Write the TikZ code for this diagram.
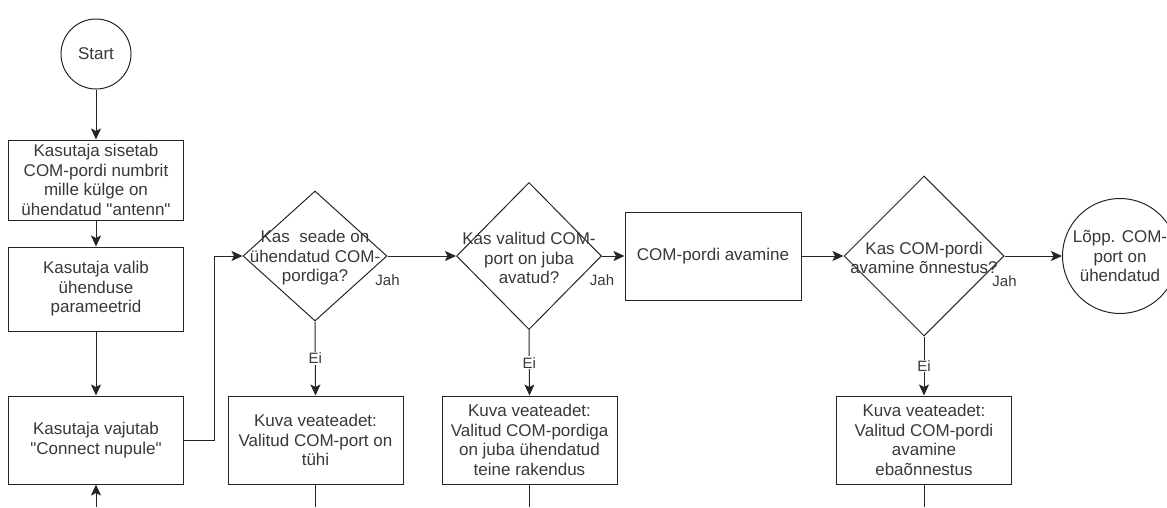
\documentclass[tikz,border=0pt]{standalone}
\usepackage{fontspec}
\setmainfont{Liberation Sans}
\usetikzlibrary{shapes.geometric,arrows.meta}
\definecolor{inkline}{HTML}{262626}
\definecolor{inktext}{HTML}{383838}
\newcommand{\dq}{\textquotedbl}
\begin{document}
\begin{tikzpicture}[x=1pt,y=-1pt,
  every node/.style={text=inktext, font=\fontsize{17}{19.5}\selectfont},
  proc/.style={draw=inkline, line width=1pt, rectangle, minimum width=175pt, align=center, inner sep=2pt},
  terminal/.style={draw=inkline, line width=1pt, circle, align=center, inner sep=0pt},
  decision/.style={draw=inkline, line width=1pt, diamond, inner sep=0pt},
  qtext/.style={align=center, inner sep=0pt},
  flow/.style={draw=inkline, line width=1pt, -{Stealth[length=11pt,width=10pt,inset=2.5pt]}},
  plain/.style={draw=inkline, line width=1pt},
  answer/.style={font=\fontsize{15}{17}\selectfont, inner sep=1pt},
]
\useasboundingbox (0,0) rectangle (1167,507);

% left column: input steps
\node[terminal, minimum size=70pt] (start) at (96,54) {Start};
\node[proc, minimum height=80pt] (b1) at (96,180) {Kasutaja sisetab\\COM-pordi numbrit\\mille külge on\\ühendatud \dq antenn\dq};
\node[proc, minimum height=84pt] (b2) at (96,289) {Kasutaja valib\\ühenduse\\parameetrid};
\node[proc, minimum height=88pt] (b3) at (96,440) {Kasutaja vajutab\\\dq Connect nupule\dq};

% first check
\node[decision, minimum width=144pt, minimum height=130pt] (d1) at (315,256) {};
\node[qtext] (d1t) at (315,258) {Kas~~seade on\\ühendatud COM-\\pordiga?};
\node[proc, minimum height=88pt] (e1) at (315.5,440) {Kuva veateadet:\\Valitud COM-port on\\tühi};

% second check
\node[decision, minimum width=145pt, minimum height=147pt] (d2) at (529,256) {};
\node[qtext] (d2t) at (529,258) {Kas valitud COM-\\port on juba\\avatud?};
\node[proc, minimum height=88pt] (e2) at (529.5,440) {Kuva veateadet:\\Valitud COM-pordiga\\on juba ühendatud\\teine rakendus};

% opening the port
\node[proc, minimum width=176pt, minimum height=88pt] (open) at (713,256) {COM-pordi avamine};
\node[decision, minimum width=160pt, minimum height=160pt] (d3) at (924,256) {};
\node[qtext] (d3t) at (924,258) {Kas COM-pordi\\avamine õnnestus?};
\node[proc, minimum height=88pt] (e3) at (924,440) {Kuva veateadet:\\Valitud COM-pordi\\avamine\\ebaõnnestus};
\node[terminal, minimum size=115pt] (end) at (1120,256) {Lõpp. COM-\\port on\\ühendatud};

% answer labels
\node[answer] (j1) at ([yshift=-24pt]d1.east) {Jah};
\node[answer] (j2) at ([yshift=-24pt]d2.east) {Jah};
\node[answer] (j3) at ([yshift=-25pt]d3.east) {Jah};

% free ends at the lower edge
\coordinate (loopin) at (96,507);
\coordinate (e1out) at (315.5,507);
\coordinate (e2out) at (529.5,507);
\coordinate (e3out) at (924,507);

% connectors
\draw[flow] (start) -- (b1);
\draw[flow] (b1) -- (b2);
\draw[flow] (b2) -- (b3);
\draw[flow] (loopin) -- (b3.south);
\draw[flow] (b3.east) -- ([xshift=30pt]b3.east) |- (d1.west);
\draw[flow] (d1.east) -- (d2.west);
\draw[flow] (d2.east) -- (open.west);
\draw[flow] (open.east) -- (d3.west);
\draw[flow] (d3.east) -- (end.west);
\draw[flow] (d1.south) -- node[answer, fill=white] {Ei} (e1.north);
\draw[flow] (d2.south) -- node[answer, fill=white] {Ei} (e2.north);
\draw[flow] (d3.south) -- node[answer, fill=white] {Ei} (e3.north);
\draw[plain] (e1.south) -- (e1out);
\draw[plain] (e2.south) -- (e2out);
\draw[plain] (e3.south) -- (e3out);
\end{tikzpicture}
\end{document}
